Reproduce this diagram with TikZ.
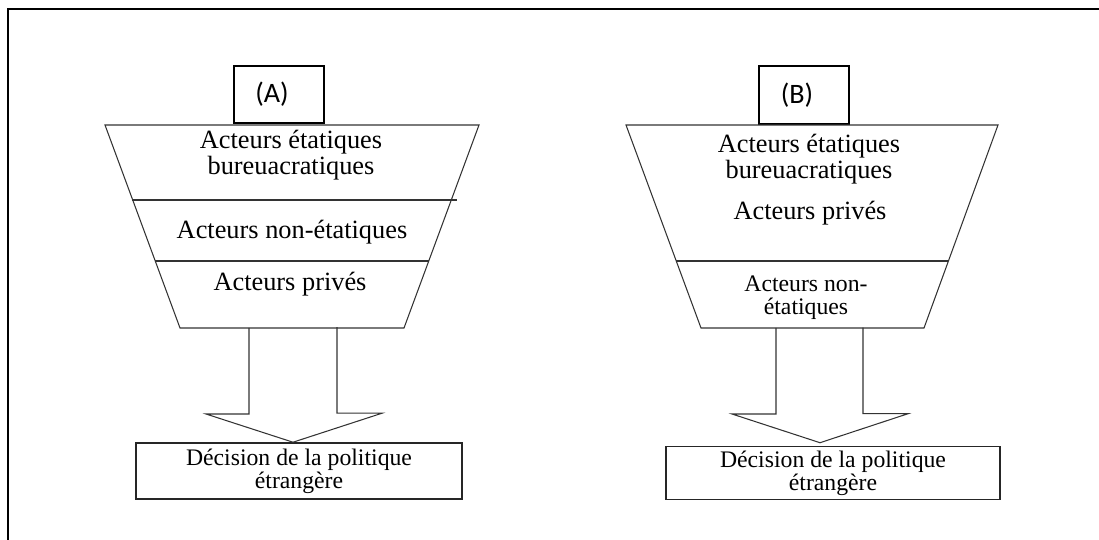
\documentclass[tikz,border=0pt]{standalone}
\usepackage{fontspec}
\setmainfont{Liberation Serif}
\newfontfamily\tagfont{Carlito}
\tikzset{
  funnel/.style={draw=black!80, line width=0.6pt},
  actors/.style={align=center, inner sep=0pt, font=\fontsize{15}{13.2}\selectfont},
  smallactors/.style={align=center, inner sep=0pt, font=\fontsize{13.5}{13}\selectfont},
  decision/.style={draw=black!85, line width=0.9pt, align=center, inner sep=0pt,
    font=\fontsize{13.5}{13}\selectfont},
  tagbox/.style={draw, line width=0.9pt, minimum width=1.8cm, minimum height=1.14cm,
    inner sep=0pt, font=\tagfont\fontsize{16}{18}\selectfont}
}
\begin{document}
\begin{tikzpicture}[x=0.02cm, y=-0.02cm]
  \useasboundingbox (0,0) rectangle (1099,540);
  % frame
  \draw[line width=1.2pt] (1099,9) -- (8,9) -- (8,540);

  % (A)
  \node[tagbox] (tagA) at (279,94.5) {(A)\hspace*{0.28cm}};
  \draw[funnel] (105,125) -- (479,125) -- (404,328) -- (180,328) -- cycle;
  \draw[funnel] (132,200) -- (457,200);
  \draw[funnel] (155,261) -- (429,261);
  \node[actors] (etatA) at (291,155) {Acteurs étatiques\\bureuacratiques};
  \node[actors] (nonetatA) at (292,232) {Acteurs non-étatiques};
  \node[actors] (priveA) at (290,284) {Acteurs privés};
  \node[decision, minimum width=6.52cm, minimum height=1.12cm] (decA) at (299,471)
    {Décision de la politique\\étrangère};
  \coordinate (tipA) at ([xshift=-0.12cm]decA.north);
  \draw[funnel] (249,328) -- ++(0,86) -- ++(-43,0) -- (tipA) -- ++(89,-29)
    -- ++(-45,0) -- ++(0,-86);

  % (B)
  \node[tagbox, minimum height=1.16cm] (tagB) at (804,95) {(B)\hspace*{0.28cm}};
  \draw[funnel] (626,125) -- (998,125) -- (924,328) -- (701,328) -- cycle;
  \draw[funnel] (676,261) -- (948,261);
  \node[actors] (etatB) at (809,159) {Acteurs étatiques\\bureuacratiques};
  \node[actors] (priveB) at (810,213) {Acteurs privés};
  \node[smallactors] (nonetatB) at (806,298) {Acteurs non-\\étatiques};
  \node[decision, minimum width=6.68cm, minimum height=1.06cm] (decB) at (833,473)
    {Décision de la politique\\étrangère};
  \coordinate (tipB) at ([xshift=-0.26cm, yshift=0.06cm]decB.north);
  \draw[funnel] (776,328) -- ++(0,86) -- ++(-44,0) -- (tipB) -- ++(88,-29)
    -- ++(-45,0) -- ++(0,-86);
\end{tikzpicture}
\end{document}
